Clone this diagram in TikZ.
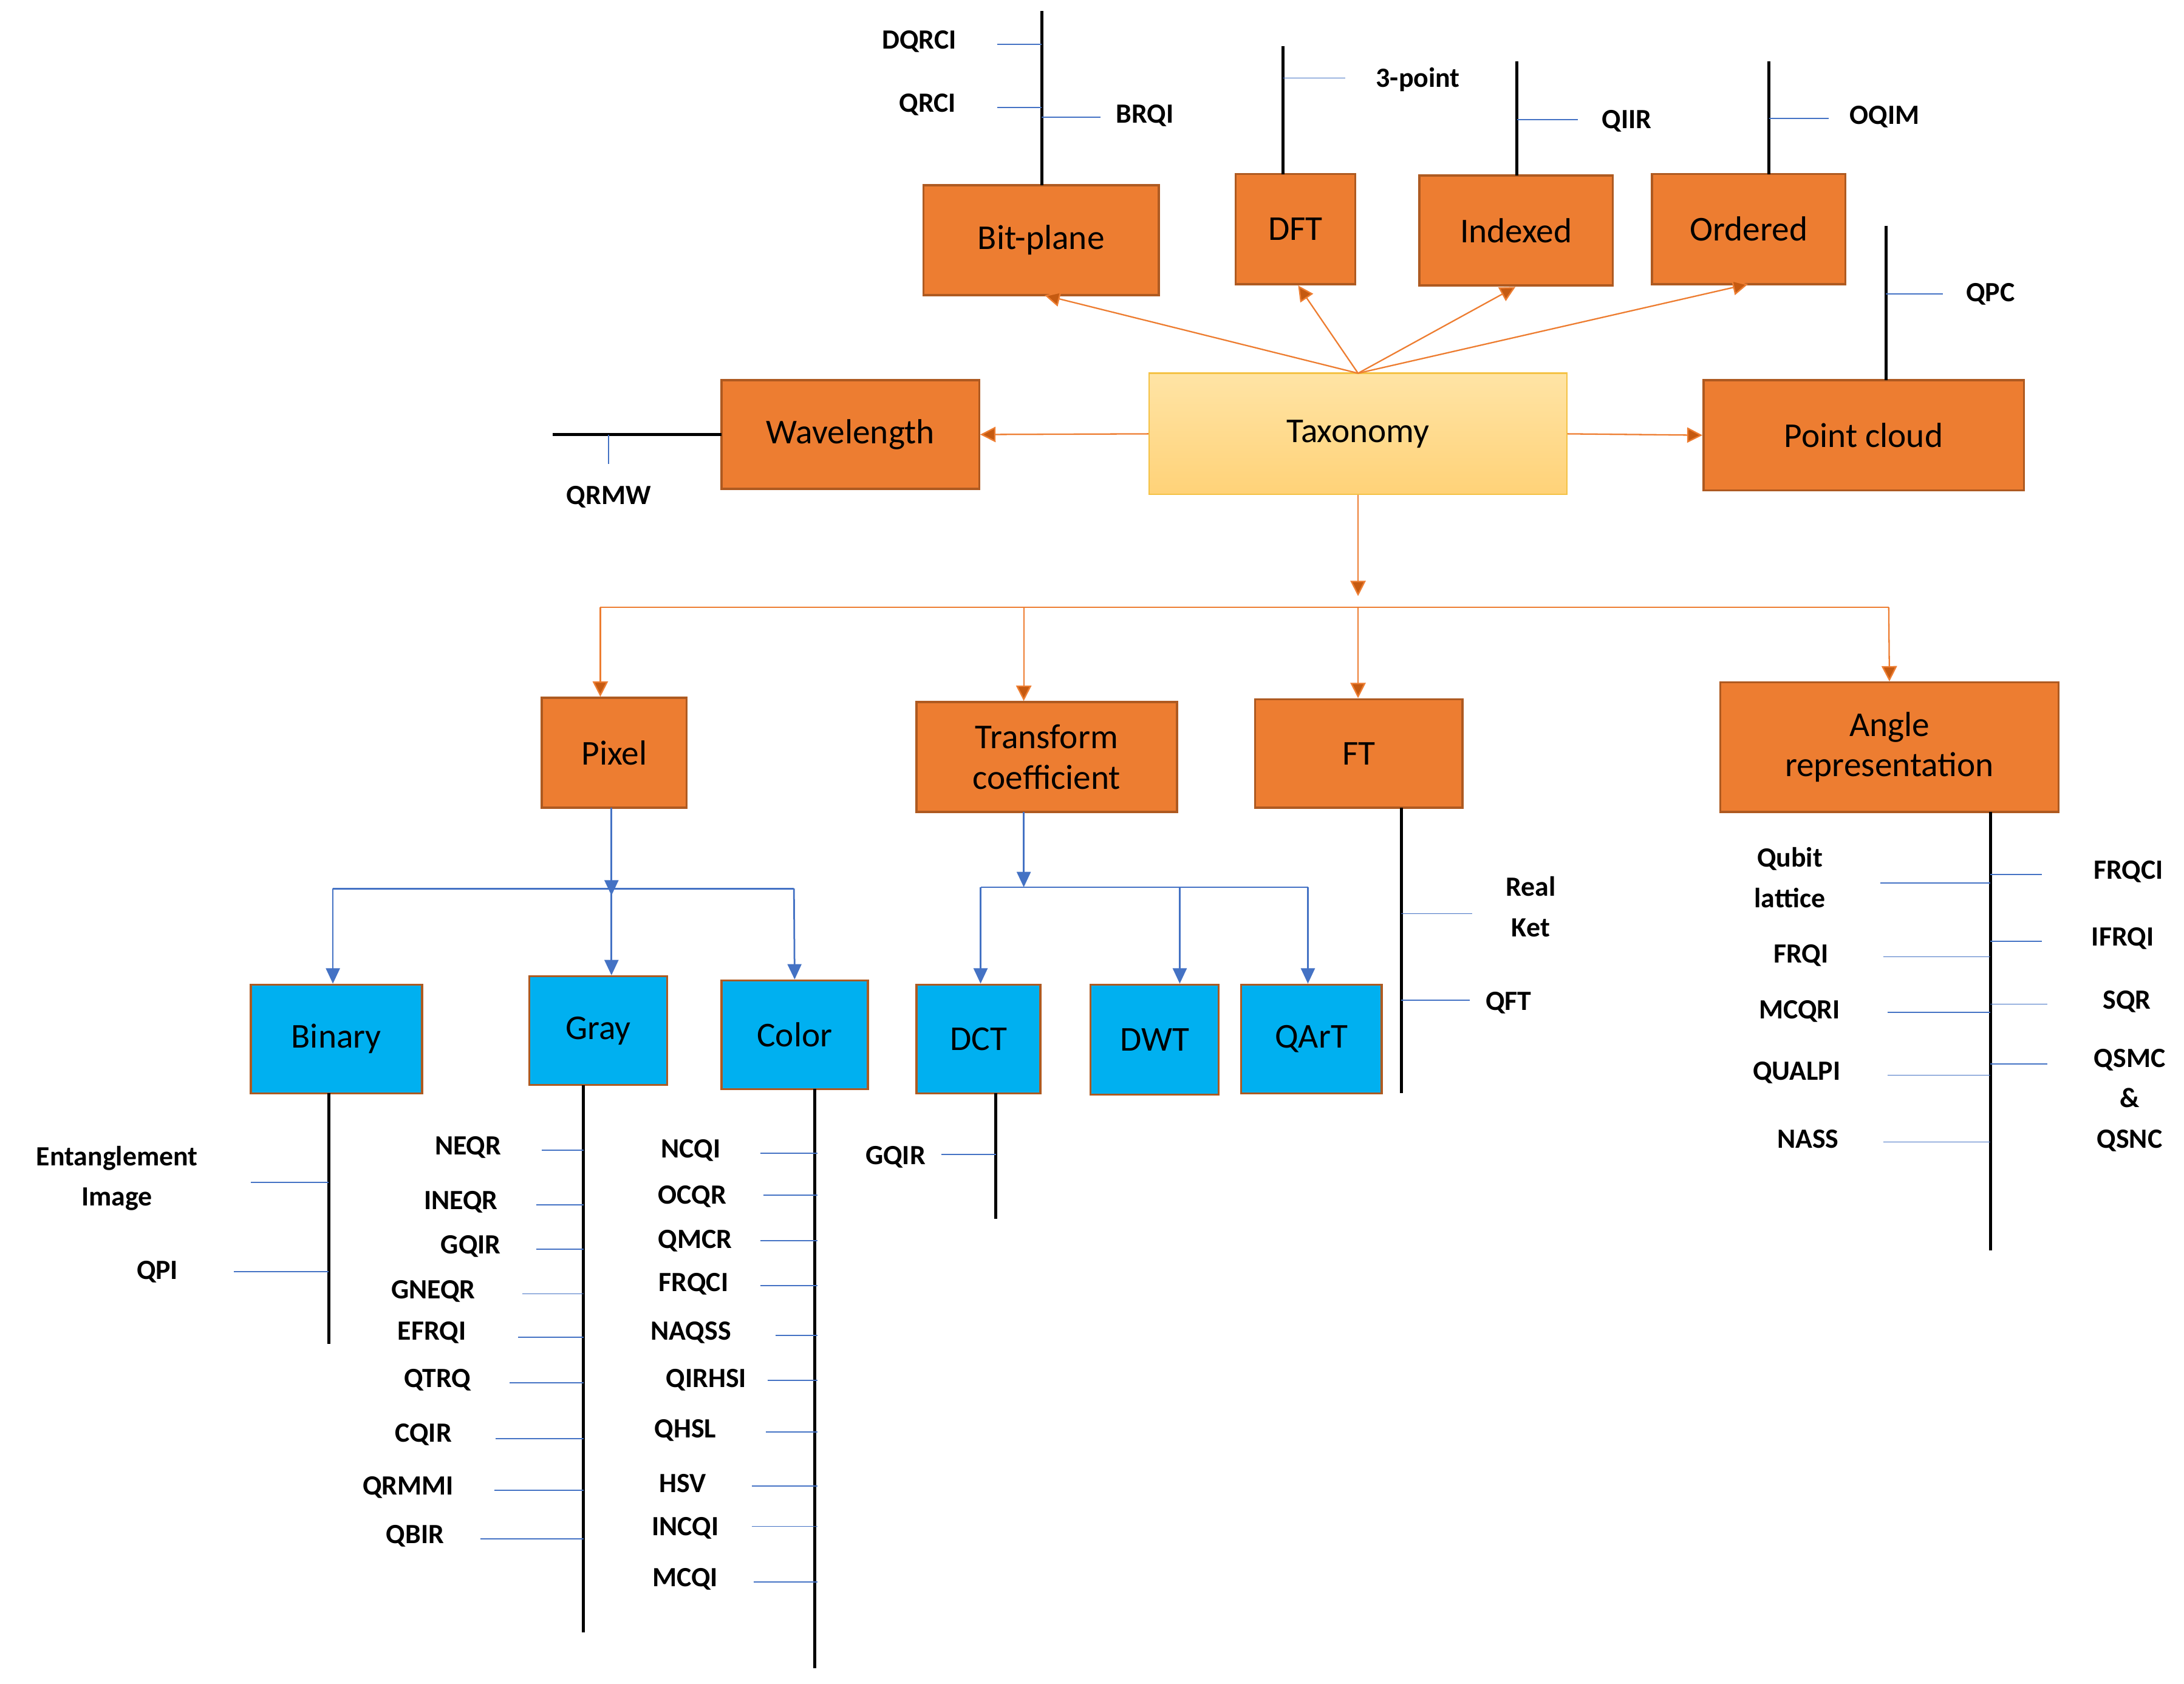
\documentclass[tikz,border=0pt]{standalone}
\usepackage{fontspec}
\setmainfont{Carlito}
\usetikzlibrary{arrows.meta}
\definecolor{org}{HTML}{ED7D31}
\definecolor{orgd}{HTML}{AE5A21}
\definecolor{arr}{HTML}{C55A11}
\definecolor{blu}{HTML}{00B0F0}
\definecolor{tick}{HTML}{4472C4}
\begin{document}
\begin{tikzpicture}[x=1pt,y=-1pt,
 ob/.style={draw=orgd,line width=1.5pt,fill=org,font=\fontsize{25}{29}\selectfont,align=center,inner sep=0pt},
 bb/.style={draw=orgd,line width=1.5pt,fill=blu,font=\fontsize{25}{29}\selectfont,align=center,inner sep=0pt},
 lb/.style={font=\bfseries\fontsize{20}{29}\selectfont,align=center,inner sep=0pt},
 oa/.style={draw=org,line width=1pt,-{Triangle[length=11pt,width=11pt,fill=arr]}},
 ol/.style={draw=org,line width=1pt},
 ba/.style={draw=tick,line width=1.2pt,-{Triangle[length=11pt,width=10pt]}},
 bl/.style={draw=tick,line width=1.2pt},
 st/.style={draw=black,line width=2.2pt},
 tk/.style={draw=tick,line width=0.8pt}]
\useasboundingbox (0,0) rectangle (1568,1209);
\def\bx#1#2#3#4#5#6#7{\node[#2,minimum width={#5-#3},minimum height={#6-#4}] (#1) at ({(#3+#5)/2},{(#4+#6)/2}) {#7};}
\bx{bp}{ob}{663}{133}{832}{212}{Bit-plane}
\bx{dft}{ob}{887}{125}{973}{204}{DFT}
\bx{ind}{ob}{1019}{126}{1158}{205}{Indexed}
\bx{ord}{ob}{1186}{125}{1325}{204}{Ordered}
\bx{wl}{ob}{518}{273}{703}{351}{Wavelength}
\node[draw={rgb,255:red,244;green,194;blue,69},line width=1pt,top color={rgb,255:red,255;green,228;blue,165},bottom color={rgb,255:red,255;green,210;blue,120},minimum width=300,minimum height=87,font=\fontsize{25}{29}\selectfont,inner sep=0pt] (tax) at (975,311.5) {Taxonomy};
\bx{pc}{ob}{1223}{273}{1453}{352}{Point cloud}
\bx{pix}{ob}{389}{501}{493}{580}{Pixel}
\bx{tc}{ob}{658}{504}{845}{583}{Transform\\coefficient}
\bx{ft}{ob}{901}{502}{1050}{580}{FT}
\bx{ang}{ob}{1235}{490}{1478}{583}{Angle\\representation}
\bx{bin}{bb}{180}{707}{303}{785}{Binary}
\bx{gray}{bb}{380}{701}{479}{779}{Gray}
\bx{col}{bb}{518}{704}{623}{782}{Color}
\bx{dct}{bb}{658}{707}{747}{785}{DCT}
\bx{dwt}{bb}{783}{707}{875}{786}{DWT}
\bx{qart}{bb}{891}{707}{992}{785}{QArT}
% orange arrows
\coordinate (t0) at (975,268);
\draw[oa] (t0) -- (750,212);
\draw[oa] (t0) -- (932,205);
\draw[oa] (t0) -- (1088,206);
\draw[oa] (t0) -- (1255,204);
\draw[oa] (tax.west) -- (wl.east);
\draw[oa] (tax.east) -- (pc.west);
\coordinate (h0) at (975,428);
\draw[oa] (tax.south) -- (h0);
\draw[ol] (431,436) -- (1356,436);
\draw[oa] (431,436) -- (pix.north -| 431,0);
\draw[oa] (735,436) -- (tc.north -| 735,0);
\draw[oa] (975,436) -- (ft.north -| 975,0);
\draw[oa] (1356,436) -- (ang.north);
% blue arrows
\draw[bl] (439,580) -- (439,638); \draw[ba] (439,600) -- (439,643);
\draw[bl] (239,638) -- (570,638);
\draw[ba] (239,638) -- (bin.north -| 239,0);
\draw[ba] (439,638) -- (gray.north -| 439,0);
\draw[ba] (570,638) -- (col.north);
\draw[ba] (735,583) -- (735,637);
\draw[bl] (704,637) -- (939,637);
\draw[ba] (704,637) -- (dct.north -| 704,0);
\draw[ba] (847,637) -- (dwt.north -| 847,0);
\draw[ba] (939,637) -- (qart.north -| 939,0);
% stems
\draw[st] (748,8) -- (748,133);
\draw[tk] (716,32) -- (748,32); \draw[tk] (716,77) -- (748,77); \draw[tk] (748,84) -- (790,84);
\node[lb] at (660,30) {DQRCI}; \node[lb] at (666,75) {QRCI}; \node[lb] at (822,83) {BRQI};
\draw[st] (921,33) -- (921,125); \draw[tk] (921,56) -- (966,56); \node[lb] at (1018,57) {3-point};
\draw[st] (1089,44) -- (1089,126); \draw[tk] (1089,86) -- (1133,86); \node[lb] at (1168,87) {QIIR};
\draw[st] (1270,44) -- (1270,125); \draw[tk] (1270,85) -- (1313,85); \node[lb] at (1353,84) {OQIM};
\draw[st] (1354,162) -- (1354,273); \draw[tk] (1354,211) -- (1395,211); \node[lb] at (1429,211) {QPC};
\draw[st] (397,312) -- (518,312); \draw[tk] (437,312) -- (437,333); \node[lb] at (437,357) {QRMW};
\draw[st] (1006,580) -- (1006,785);
\draw[tk] (1006,656) -- (1057,656); \draw[tk] (1006,718) -- (1055,718);
\node[lb] at (1099,651) {Real\\Ket}; \node[lb] at (1083,720) {QFT};
\draw[st] (1429,583) -- (1429,898);
\foreach \y/\x in {634/1350,687/1352,727/1355,772/1355,820/1352} \draw[tk] (\x,\y) -- (1429,\y);
\foreach \y/\x in {628/1466,676/1466,721/1470,764/1470} \draw[tk] (1429,\y) -- (\x,\y);
\node[lb] at (1285,630) {Qubit\\lattice}; \node[lb] at (1293,686) {FRQI}; \node[lb] at (1292,726) {MCQRI};
\node[lb] at (1290,770) {QUALPI}; \node[lb] at (1298,818) {NASS};
\node[lb] at (1528,626) {FRQCI}; \node[lb] at (1524,674) {IFRQI}; \node[lb] at (1527,719) {SQR};
\node[lb] at (1529,790) {QSMC\\\&\\QSNC};
\draw[st] (236,785) -- (236,965);
\draw[tk] (180,849) -- (236,849); \draw[tk] (168,913) -- (236,913);
\node[lb] at (84,846) {Entanglement\\Image}; \node[lb] at (113,913) {QPI};
\draw[st] (419,779) -- (419,1172);
\foreach \y/\x in {826/389,865/385,897/385,929/375,960/372,993/366,1033/356,1070/355,1105/345} \draw[tk] (\x,\y) -- (419,\y);
\node[lb] at (336,824) {NEQR}; \node[lb] at (331,863) {INEQR}; \node[lb] at (338,895) {GQIR};
\node[lb] at (311,927) {GNEQR}; \node[lb] at (310,957) {EFRQI}; \node[lb] at (314,991) {QTRQ};
\node[lb] at (304,1030) {CQIR}; \node[lb] at (293,1068) {QRMMI}; \node[lb] at (298,1103) {QBIR};
\draw[st] (585,782) -- (585,1198);
\foreach \y/\x in {828/546,858/548,891/546,923/546,959/557,991/551,1028/550,1067/540,1096/540,1136/541} \draw[tk] (\x,\y) -- (587,\y);
\node[lb] at (496,826) {NCQI}; \node[lb] at (497,859) {OCQR}; \node[lb] at (499,891) {QMCR};
\node[lb] at (498,922) {FRQCI}; \node[lb] at (496,957) {NAQSS}; \node[lb] at (507,991) {QIRHSI};
\node[lb] at (492,1027) {QHSL}; \node[lb] at (490,1065) {HSV}; \node[lb] at (492,1097) {INCQI};
\node[lb] at (492,1134) {MCQI};
\draw[st] (715,785) -- (715,875); \draw[tk] (676,829) -- (715,829); \node[lb] at (643,831) {GQIR};
\end{tikzpicture}
\end{document}
